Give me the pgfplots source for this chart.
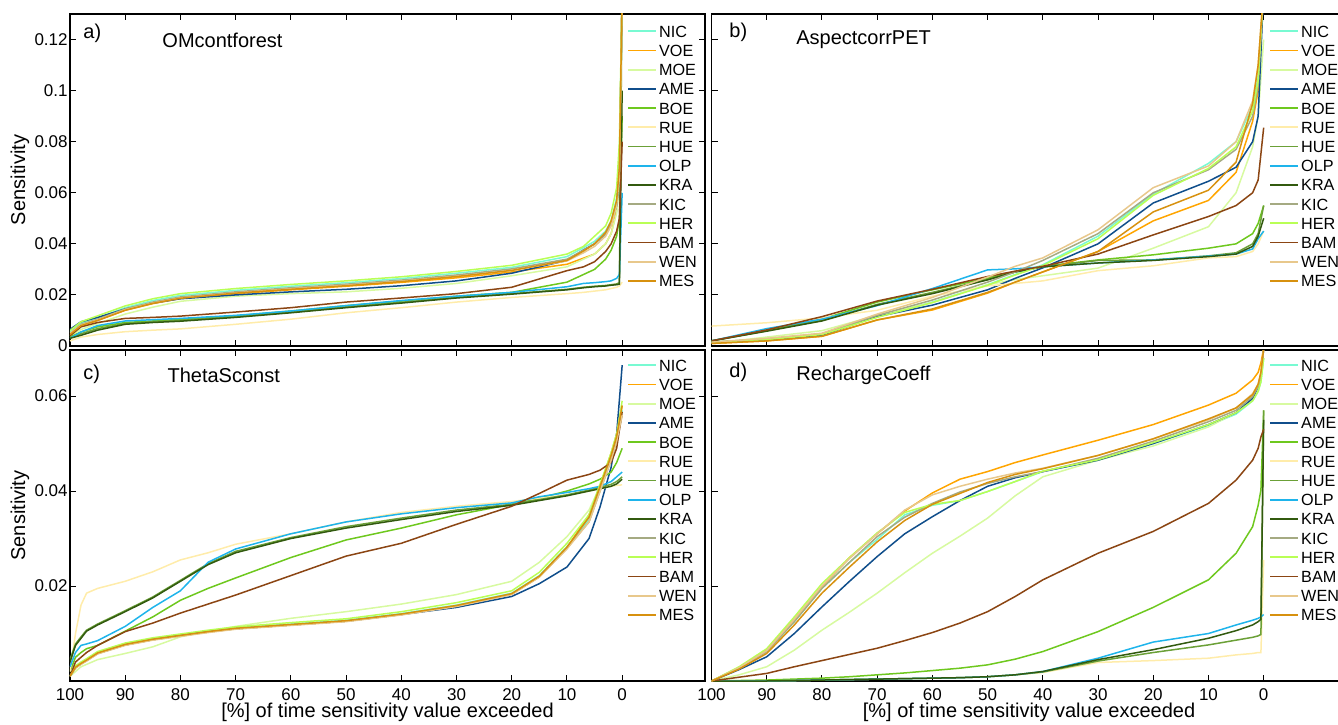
\documentclass[border=0pt]{standalone}
\usepackage{pgfplots}
\pgfplotsset{compat=1.18}
\usepackage{pgfplotstable}
\usepackage{fontspec}
\setmainfont{Liberation Sans}

\definecolor{cNIC}{RGB}{120,250,210}
\definecolor{cVOE}{RGB}{255,165,0}
\definecolor{cMOE}{RGB}{215,250,160}
\definecolor{cAME}{RGB}{16,78,139}
\definecolor{cBOE}{RGB}{110,200,30}
\definecolor{cRUE}{RGB}{255,236,170}
\definecolor{cHUE}{RGB}{107,160,55}
\definecolor{cOLP}{RGB}{30,180,235}
\definecolor{cKRA}{RGB}{50,90,15}
\definecolor{cKIC}{RGB}{165,170,130}
\definecolor{cHER}{RGB}{185,255,85}
\definecolor{cBAM}{RGB}{139,69,19}
\definecolor{cWEN}{RGB}{232,200,140}
\definecolor{cMES}{RGB}{215,145,15}

\pgfplotstableread{
x NIC VOE MOE AME BOE RUE HUE OLP KRA KIC HER BAM WEN MES
100 0.0055 0.0045 0.004 0.0065 0.0035 0.002 0.0032 0.003 0.003 0.005 0.006 0.004 0.005 0.0045
98 0.009 0.008 0.0065 0.0095 0.0055 0.0035 0.0048 0.0055 0.0042 0.0085 0.0095 0.0075 0.0082 0.008
95 0.011 0.0100 0.0088 0.0112 0.0075 0.0045 0.0068 0.008 0.0062 0.0105 0.0118 0.0092 0.0102 0.0100
90 0.015 0.0140 0.0125 0.0145 0.0092 0.0056 0.0088 0.0098 0.0085 0.0145 0.0157 0.0108 0.0142 0.0140
85 0.0178 0.0166 0.0152 0.0168 0.0098 0.0062 0.0095 0.0103 0.0092 0.0172 0.0185 0.0112 0.0168 0.0167
80 0.0198 0.0186 0.0175 0.0185 0.0104 0.0067 0.0100 0.0108 0.0097 0.0192 0.0205 0.0117 0.0188 0.0187
70 0.0218 0.0205 0.0195 0.0200 0.0118 0.0085 0.0115 0.0120 0.0112 0.0212 0.0225 0.0133 0.0208 0.0207
60 0.0234 0.0220 0.0205 0.0212 0.0137 0.0105 0.0133 0.0137 0.0130 0.0228 0.0241 0.0150 0.0224 0.0222
50 0.0248 0.0234 0.0212 0.0222 0.0158 0.0130 0.0153 0.0158 0.0150 0.0242 0.0255 0.0172 0.0238 0.0236
40 0.0264 0.0249 0.0226 0.0236 0.0176 0.0150 0.0171 0.0178 0.0168 0.0258 0.0271 0.0188 0.0254 0.0252
30 0.0285 0.0267 0.0245 0.0255 0.0195 0.0172 0.0190 0.0195 0.0188 0.0278 0.0292 0.0205 0.0273 0.0272
20 0.0308 0.0290 0.0275 0.0285 0.0210 0.0190 0.0205 0.0210 0.0203 0.0302 0.0316 0.0230 0.0296 0.0296
10 0.035 0.032 0.031 0.0335 0.025 0.0205 0.0222 0.0232 0.0220 0.034 0.036 0.0295 0.0333 0.0335
7 0.0385 0.0344 0.034 0.0376 0.028 0.021 0.023 0.0245 0.0228 0.0375 0.039 0.031 0.0365 0.0372
5 0.041 0.036 0.036 0.040 0.030 0.0215 0.0234 0.0248 0.0232 0.040 0.043 0.033 0.039 0.040
3 0.045 0.040 0.040 0.044 0.034 0.022 0.0237 0.0252 0.0235 0.044 0.047 0.037 0.043 0.0445
2 0.049 0.044 0.044 0.048 0.0375 0.0225 0.024 0.0255 0.0238 0.048 0.052 0.040 0.047 0.049
1 0.058 0.053 0.052 0.055 0.043 0.023 0.0243 0.0265 0.024 0.056 0.062 0.045 0.055 0.057
0.5 0.072 0.065 0.062 0.065 0.05 0.0235 0.0248 0.028 0.0242 0.068 0.08 0.05 0.066 0.07
0 0.14 0.14 0.14 0.14 0.09 0.025 0.14 0.06 0.10 0.14 0.14 0.08 0.14 0.14
}\tabA

\pgfplotstableread{
x NIC VOE MOE AME BOE RUE HUE OLP KRA KIC HER BAM WEN MES
100 0.0015 0.001 0.001 0.0015 0.002 0.0078 0.002 0.002 0.002 0.0015 0.0015 0.002 0.0015 0.001
90 0.0025 0.002 0.0035 0.0025 0.006 0.0091 0.006 0.0068 0.0058 0.0028 0.0025 0.0063 0.003 0.002
80 0.0045 0.0038 0.006 0.0043 0.0105 0.011 0.010 0.0105 0.0098 0.0048 0.0045 0.0115 0.005 0.0038
70 0.0115 0.0102 0.012 0.0115 0.0172 0.014 0.0163 0.0158 0.016 0.012 0.0112 0.0176 0.0125 0.0102
60 0.0172 0.0141 0.017 0.016 0.022 0.0195 0.021 0.0225 0.0205 0.018 0.017 0.0222 0.019 0.0145
50 0.024 0.0207 0.024 0.022 0.0265 0.0235 0.026 0.0298 0.0259 0.025 0.0238 0.0272 0.027 0.021
45 0.028 0.025 0.026 0.0265 0.0292 0.0245 0.029 0.0302 0.029 0.029 0.0278 0.0293 0.0312 0.025
40 0.0318 0.029 0.0275 0.0306 0.0312 0.0255 0.031 0.031 0.031 0.0335 0.0315 0.0312 0.0345 0.029
30 0.043 0.037 0.0305 0.040 0.0337 0.0295 0.0335 0.0325 0.0325 0.044 0.042 0.036 0.0455 0.037
20 0.0595 0.049 0.0383 0.056 0.0357 0.0314 0.0337 0.0337 0.0335 0.060 0.059 0.0435 0.062 0.0525
10 0.0715 0.057 0.0467 0.0645 0.0383 0.0345 0.0353 0.0352 0.035 0.069 0.0695 0.0507 0.0705 0.061
5 0.080 0.068 0.060 0.070 0.040 0.035 0.0365 0.036 0.036 0.077 0.078 0.055 0.080 0.072
2 0.094 0.088 0.078 0.080 0.044 0.037 0.040 0.038 0.039 0.090 0.092 0.060 0.096 0.095
1 0.105 0.100 0.090 0.090 0.048 0.040 0.044 0.042 0.043 0.102 0.104 0.065 0.110 0.110
0 0.14 0.14 0.12 0.14 0.055 0.045 0.055 0.045 0.05 0.14 0.14 0.0855 0.14 0.14
}\tabB

\pgfplotstableread{
x NIC VOE MOE AME BOE RUE HUE OLP KRA KIC HER BAM WEN MES
100 0.001 0.001 0.001 0.001 0.002 0.002 0.0045 0.003 0.004 0.001 0.001 0.001 0.001 0.001
99 0.003 0.0028 0.002 0.0028 0.005 0.010 0.0078 0.006 0.0075 0.0028 0.0032 0.004 0.0027 0.0029
98 0.0038 0.0036 0.003 0.0036 0.006 0.016 0.0093 0.0075 0.009 0.0036 0.004 0.005 0.0035 0.0037
97 0.0045 0.0043 0.0035 0.0043 0.0068 0.0185 0.0107 0.0078 0.0105 0.0043 0.0047 0.006 0.0042 0.0044
95 0.006 0.0058 0.0045 0.0058 0.0075 0.0195 0.012 0.0085 0.0118 0.0058 0.0062 0.0075 0.0057 0.0059
90 0.0078 0.0076 0.0058 0.0076 0.0105 0.021 0.0148 0.0115 0.0146 0.0076 0.008 0.0104 0.0075 0.0077
85 0.0089 0.0087 0.0072 0.0087 0.0135 0.023 0.0177 0.0155 0.0175 0.0087 0.0091 0.0122 0.0086 0.0088
80 0.0097 0.0095 0.0093 0.0096 0.017 0.0255 0.0212 0.019 0.021 0.0095 0.0099 0.0143 0.0094 0.0096
75 0.0105 0.0103 0.0105 0.0104 0.0195 0.027 0.0247 0.025 0.0245 0.0103 0.0107 0.0162 0.0102 0.0104
70 0.0112 0.011 0.0115 0.011 0.0217 0.0288 0.0273 0.0278 0.027 0.011 0.0114 0.0181 0.0109 0.0111
60 0.012 0.0118 0.0132 0.0118 0.026 0.031 0.0302 0.031 0.030 0.0118 0.0123 0.0222 0.0117 0.0119
50 0.0128 0.0126 0.0146 0.0126 0.0297 0.0335 0.0325 0.0335 0.0322 0.0126 0.0131 0.0263 0.0125 0.0127
40 0.0142 0.014 0.0162 0.014 0.0322 0.0355 0.0343 0.0352 0.034 0.014 0.0146 0.029 0.0139 0.0141
30 0.016 0.0158 0.0182 0.0155 0.035 0.0368 0.036 0.0365 0.0357 0.0158 0.0165 0.033 0.0157 0.0159
20 0.0185 0.0183 0.021 0.0178 0.0372 0.0378 0.0372 0.0375 0.037 0.0183 0.019 0.0368 0.0182 0.0184
15 0.0222 0.0219 0.025 0.0205 0.0385 0.0385 0.0382 0.0388 0.038 0.022 0.0229 0.0395 0.0219 0.0221
10 0.0283 0.028 0.0304 0.024 0.040 0.0392 0.0392 0.0397 0.039 0.028 0.029 0.0423 0.0278 0.0282
6 0.034 0.035 0.036 0.030 0.0415 0.040 0.0402 0.0405 0.040 0.0335 0.035 0.0435 0.0335 0.0345
4 0.0405 0.041 0.041 0.0367 0.0425 0.0405 0.0408 0.041 0.0405 0.040 0.0415 0.0444 0.040 0.041
2 0.047 0.048 0.048 0.045 0.044 0.041 0.0414 0.042 0.041 0.0465 0.048 0.046 0.0465 0.0475
1 0.051 0.052 0.052 0.052 0.046 0.0412 0.042 0.043 0.0415 0.0505 0.052 0.049 0.0505 0.0515
0 0.057 0.058 0.058 0.0665 0.049 0.0413 0.043 0.044 0.0425 0.056 0.059 0.0567 0.056 0.058
}\tabC

\pgfplotstableread{
x NIC VOE MOE AME BOE RUE HUE OLP KRA KIC HER BAM WEN MES
100 0 0 0 0 0 0 0 0 0 0 0 0 0 0
95 0.0027 0.0028 0.0013 0.0024 0.0001 0 0 0 0 0.0027 0.003 0.0008 0.0028 0.0025
90 0.0062 0.0065 0.003 0.0051 0.0002 0 0 0 0 0.0062 0.0068 0.0016 0.0064 0.0058
85 0.0125 0.013 0.0065 0.010 0.0004 0.0001 0.0001 0.0001 0.0001 0.0125 0.0135 0.003 0.013 0.0118
80 0.0195 0.0198 0.0107 0.0156 0.0006 0.0002 0.0002 0.0002 0.0002 0.0195 0.0205 0.0043 0.020 0.0185
75 0.025 0.026 0.0145 0.021 0.0009 0.0003 0.0003 0.0003 0.0003 0.025 0.026 0.0056 0.0258 0.024
70 0.0298 0.031 0.0185 0.0262 0.0013 0.0004 0.0004 0.0004 0.0004 0.0304 0.0312 0.0069 0.031 0.0293
65 0.035 0.0358 0.0228 0.031 0.0017 0.0005 0.0005 0.0005 0.0005 0.0345 0.0355 0.0085 0.036 0.0338
60 0.037 0.0396 0.0269 0.0346 0.0022 0.0006 0.0006 0.0006 0.0006 0.0374 0.0372 0.0102 0.0392 0.0372
55 0.038 0.0425 0.0305 0.038 0.0027 0.0007 0.0007 0.0007 0.0007 0.0398 0.038 0.0122 0.041 0.0395
50 0.0399 0.0441 0.0343 0.041 0.0034 0.0009 0.0009 0.0009 0.0009 0.0416 0.0399 0.0146 0.0425 0.0418
45 0.042 0.046 0.039 0.0428 0.0046 0.0013 0.0013 0.0013 0.0013 0.043 0.042 0.0178 0.0438 0.0435
40 0.0441 0.0476 0.043 0.0441 0.0062 0.0018 0.0019 0.002 0.002 0.0441 0.0442 0.0213 0.0448 0.0447
30 0.0465 0.0507 0.0465 0.0465 0.0104 0.0039 0.0042 0.0048 0.0045 0.0469 0.0466 0.0269 0.0475 0.0475
20 0.050 0.054 0.0495 0.050 0.0155 0.0043 0.006 0.0082 0.0066 0.0505 0.0502 0.0315 0.051 0.051
10 0.0538 0.0581 0.0535 0.054 0.0213 0.0048 0.0076 0.010 0.009 0.0546 0.054 0.0374 0.055 0.0552
5 0.0562 0.0606 0.0565 0.0565 0.0269 0.0055 0.0086 0.0118 0.0106 0.057 0.0565 0.0423 0.0575 0.0575
2 0.059 0.0634 0.0595 0.0595 0.0325 0.0058 0.0092 0.0128 0.0118 0.0599 0.059 0.0465 0.0605 0.0603
1 0.061 0.065 0.062 0.062 0.037 0.006 0.0095 0.0132 0.0125 0.062 0.061 0.049 0.0625 0.0625
0.5 0.063 0.067 0.064 0.064 0.0402 0.006 0.0098 0.0135 0.013 0.064 0.063 0.0514 0.065 0.065
0 0.068 0.07 0.068 0.07 0.057 0.0255 0.057 0.014 0.055 0.07 0.068 0.053 0.07 0.07
}\tabD

\newcommand{\plotall}[1]{%
\addplot[cNIC] table[x=x,y=NIC]{#1};
\addplot[cVOE] table[x=x,y=VOE]{#1};
\addplot[cMOE] table[x=x,y=MOE]{#1};
\addplot[cAME] table[x=x,y=AME]{#1};
\addplot[cBOE] table[x=x,y=BOE]{#1};
\addplot[cRUE] table[x=x,y=RUE]{#1};
\addplot[cHUE] table[x=x,y=HUE]{#1};
\addplot[cOLP] table[x=x,y=OLP]{#1};
\addplot[cKRA] table[x=x,y=KRA]{#1};
\addplot[cKIC] table[x=x,y=KIC]{#1};
\addplot[cHER] table[x=x,y=HER]{#1};
\addplot[cBAM] table[x=x,y=BAM]{#1};
\addplot[cWEN] table[x=x,y=WEN]{#1};
\addplot[cMES] table[x=x,y=MES]{#1};
\legend{NIC,VOE,MOE,AME,BOE,RUE,HUE,OLP,KRA,KIC,HER,BAM,WEN,MES}
}

\pgfplotsset{
 panel/.style={
  scale only axis, width=317.5pt, x dir=reverse, xmin=-15, xmax=100,
  xtick={0,10,20,30,40,50,60,70,80,90,100},
  tick align=inside, major tick length=3pt,
  axis line style={line width=0.9pt},
  every tick/.style={black, line width=0.5pt},
  tick label style={font=\fontsize{8.5}{10}\selectfont},
  /pgf/number format/assume math mode=true,
  scaled y ticks=false,
  yticklabel style={/pgf/number format/fixed, /pgf/number format/precision=2, inner sep=1pt},
  xticklabel style={inner sep=3.5pt},
  label style={font=\fontsize{10}{12}\selectfont},
  legend style={draw=none, fill=none, inner sep=0pt, font=\fontsize{8.1}{9.6}\selectfont, anchor=north west, row sep=1.6pt, nodes={inner sep=1pt, text height=6pt, text depth=0pt}},
  legend cell align=left,
  legend image code/.code={\draw[##1, line width=0.9pt] (0pt,0pt) -- (14pt,0pt);},
  every axis plot/.append style={line width=0.75pt, mark=none},
 },
}
\tikzset{ttl/.style={anchor=west, inner sep=0pt, font=\fontsize{10}{12}\selectfont}}

\begin{document}
\begin{tikzpicture}
\path[use as bounding box] (0,0) rectangle (669pt,362pt);

% a
\begin{axis}[panel, at={(35pt,189pt)}, anchor=south west, height=166pt,
  ymin=0, ymax=0.13, ytick={0,0.02,0.04,0.06,0.08,0.1,0.12}, xticklabels={},
  ylabel={Sensitivity}, ylabel style={at={(axis description cs:-0.0787,0.5)}, anchor=center},
  legend style={at={(0.877,0.973)}}]
\plotall{\tabA}
\node[ttl] at (axis description cs:0.0205,0.943) {a)};
\node[ttl] at (axis description cs:0.145,0.922) {OMcontforest};
\end{axis}

% b
\begin{axis}[panel, at={(355.75pt,189pt)}, anchor=south west, height=166pt,
  ymin=0, ymax=0.13, ytick={0,0.02,0.04,0.06,0.08,0.1,0.12}, xticklabels={}, yticklabels={},
  legend style={at={(0.878,0.973)}}]
\plotall{\tabB}
\node[ttl] at (axis description cs:0.0276,0.946) {b)};
\node[ttl] at (axis description cs:0.133,0.922) {AspectcorrPET};
\end{axis}

% c
\begin{axis}[panel, at={(35pt,21.5pt)}, anchor=south west, height=165.5pt,
  ymin=0, ymax=0.0697, ytick={0.02,0.04,0.06},
  ylabel={Sensitivity}, ylabel style={at={(axis description cs:-0.0787,0.5)}, anchor=center},
  xlabel={[\%] of time sensitivity value exceeded},
  xlabel style={at={(axis description cs:0.5,0)}, anchor=center, yshift=-15.5pt},
  legend style={at={(0.877,0.979)}}]
\plotall{\tabC}
\node[ttl] at (axis description cs:0.0205,0.927) {c)};
\node[ttl] at (axis description cs:0.153,0.922) {ThetaSconst};
\end{axis}

% d
\begin{axis}[panel, at={(355.75pt,21.5pt)}, anchor=south west, height=165.5pt,
  ymin=0, ymax=0.0697, ytick={0.02,0.04,0.06}, yticklabels={},
  xlabel={[\%] of time sensitivity value exceeded},
  xlabel style={at={(axis description cs:0.5,0)}, anchor=center, yshift=-15.5pt},
  legend style={at={(0.878,0.979)}}]
\plotall{\tabD}
\node[ttl] at (axis description cs:0.0276,0.934) {d)};
\node[ttl] at (axis description cs:0.133,0.922) {RechargeCoeff};
\end{axis}
\end{tikzpicture}
\end{document}
